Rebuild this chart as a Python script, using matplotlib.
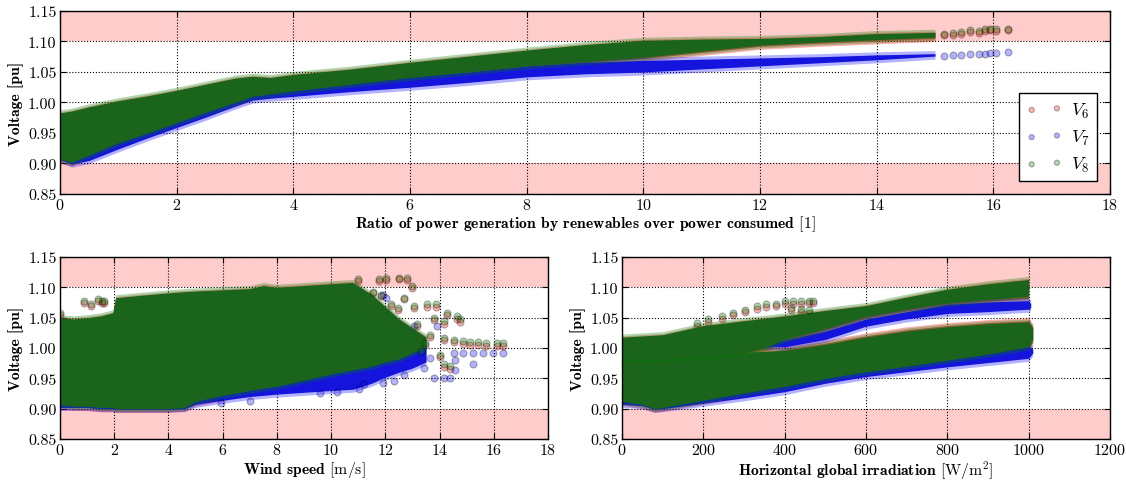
import numpy as np
import matplotlib
matplotlib.use("Agg")
import matplotlib.pyplot as plt

plt.rcParams["mathtext.fontset"] = "cm"
plt.rcParams["font.family"] = "cmr10"
plt.rcParams["axes.unicode_minus"] = False
plt.rcParams["axes.formatter.use_mathtext"] = True

# ---- top panel: voltage vs ratio of renewable generation / consumption ----
top_x = [0, 0.2, 0.5, 1, 1.5, 2, 2.5, 3, 3.3, 3.6, 4, 5, 6, 7, 8, 9, 10, 11, 12, 13, 14, 15]
top_v8_hi = [0.985, 0.988, 0.995, 1.005, 1.013, 1.022, 1.032, 1.042, 1.045, 1.043, 1.048, 1.057,
             1.068, 1.078, 1.088, 1.097, 1.104, 1.106, 1.107, 1.110, 1.115, 1.117]
top_v8_lo = [0.905, 0.900, 0.912, 0.932, 0.948, 0.965, 0.982, 0.998, 1.008, 1.012, 1.017, 1.028,
             1.039, 1.048, 1.058, 1.065, 1.072, 1.082, 1.092, 1.097, 1.101, 1.105]
top_v7_hi = [0.950, 0.940, 0.950, 0.960, 0.970, 0.980, 0.990, 1.010, 1.020, 1.025, 1.030, 1.038,
             1.045, 1.052, 1.062, 1.068, 1.071, 1.073, 1.075, 1.077, 1.080, 1.082]
top_v7_lo = [0.905, 0.897, 0.903, 0.922, 0.940, 0.957, 0.974, 0.992, 1.002, 1.005, 1.008, 1.016,
             1.023, 1.031, 1.040, 1.045, 1.048, 1.053, 1.058, 1.063, 1.068, 1.074]
top_v6_hi = [0.982, 0.985, 0.992, 1.002, 1.010, 1.019, 1.029, 1.039, 1.042, 1.040, 1.045, 1.054,
             1.065, 1.075, 1.085, 1.094, 1.101, 1.103, 1.104, 1.107, 1.112, 1.114]
top_v6_lo = [0.903, 0.899, 0.910, 0.930, 0.946, 0.963, 0.980, 0.996, 1.006, 1.010, 1.015, 1.026,
             1.037, 1.046, 1.056, 1.063, 1.070, 1.080, 1.090, 1.095, 1.099, 1.103]

top_tail_x = [15.15, 15.3, 15.45, 15.6, 15.75, 15.85, 15.95, 16.05, 16.25]
top_tail_v8 = [1.113, 1.114, 1.116, 1.119, 1.117, 1.120, 1.121, 1.120, 1.121]
top_tail_v6 = [1.110, 1.111, 1.113, 1.116, 1.114, 1.117, 1.118, 1.117, 1.118]
top_tail_v7 = [1.077, 1.078, 1.078, 1.079, 1.079, 1.080, 1.081, 1.081, 1.082]

# ---- bottom left: voltage vs wind speed ----
wind_x = [0, 0.5, 1, 1.5, 1.95, 2.05, 3, 4, 4.6, 5, 6, 7, 7.5, 8, 9, 10, 10.8, 11.5, 12, 12.5, 13, 13.5]
wind_v8_hi = [1.052, 1.050, 1.052, 1.055, 1.060, 1.085, 1.089, 1.093, 1.095, 1.096, 1.098, 1.100,
              1.105, 1.102, 1.105, 1.108, 1.110, 1.090, 1.070, 1.050, 1.035, 1.020]
wind_v8_lo = [0.905, 0.902, 0.902, 0.900, 0.900, 0.898, 0.898, 0.898, 0.900, 0.910, 0.920, 0.928,
              0.932, 0.935, 0.945, 0.955, 0.962, 0.968, 0.975, 0.980, 0.990, 1.000]
wind_v7_hi = [1.040, 1.040, 1.040, 1.045, 1.050, 1.075, 1.080, 1.083, 1.085, 1.086, 1.088, 1.090,
              1.095, 1.092, 1.095, 1.098, 1.090, 1.075, 1.060, 1.040, 1.025, 1.010]
wind_v7_lo = [0.900, 0.900, 0.900, 0.898, 0.898, 0.897, 0.897, 0.897, 0.898, 0.905, 0.912, 0.918,
              0.920, 0.922, 0.925, 0.928, 0.930, 0.940, 0.950, 0.958, 0.965, 0.975]
wind_v6_hi = [1.049, 1.047, 1.049, 1.052, 1.057, 1.082, 1.086, 1.090, 1.092, 1.093, 1.095, 1.097,
              1.102, 1.099, 1.102, 1.105, 1.107, 1.087, 1.067, 1.047, 1.032, 1.017]
wind_v6_lo = [0.903, 0.900, 0.900, 0.898, 0.898, 0.897, 0.897, 0.897, 0.899, 0.907, 0.916, 0.924,
              0.928, 0.931, 0.941, 0.951, 0.958, 0.964, 0.971, 0.976, 0.986, 0.996]

wind_pts_x = [0.0, 0.9, 1.15, 1.39, 1.54, 1.64, 10.98, 11.53, 11.78, 11.84, 12.02, 12.2, 12.45,
              12.5, 12.69, 12.81, 13.0, 13.05, 13.18, 13.3, 13.48, 13.54, 13.66, 13.79, 13.85,
              14.03, 14.15, 14.15, 14.15, 14.27, 14.4, 14.52, 14.64, 14.76, 14.88, 15.13,
              15.43, 15.73, 16.1, 16.35]
wind_pts_v8 = [1.058, 1.077, 1.073, 1.081, 1.077, 1.077, 1.113, 1.093, 1.113, 1.088, 1.115, 1.072,
               1.066, 1.116, 1.083, 1.115, 1.102, 1.069, 1.039, 0.995, 1.009, 1.072, 1.022, 1.050,
               1.072, 0.989, 1.044, 1.017, 0.973, 1.058, 0.970, 1.014, 1.052, 1.047, 1.011, 1.010,
               1.010, 1.009, 1.009, 1.009]
wind_pts_v6 = [1.055, 1.074, 1.070, 1.078, 1.074, 1.074, 1.110, 1.090, 1.110, 1.085, 1.112, 1.069,
               1.063, 1.113, 1.080, 1.112, 1.099, 1.066, 1.036, 0.992, 1.005, 1.068, 1.018, 1.046,
               1.068, 0.985, 1.040, 1.013, 0.969, 1.054, 0.966, 1.010, 1.048, 1.043, 1.006, 1.005,
               1.005, 1.004, 1.004, 1.004]
wind7_pts_x = [5.93, 7.02, 9.6, 10.2, 11.04, 11.23, 11.9, 11.9, 12.02, 12.32, 12.45, 12.69, 13.05,
               13.42, 13.66, 13.79, 13.9, 14.15, 14.4, 14.52, 14.58, 14.58, 14.88, 15.25, 15.25,
               15.61, 15.98, 16.35]
wind7_pts_v7 = [0.909, 0.912, 0.926, 0.928, 0.932, 0.940, 0.943, 1.088, 1.083, 0.945, 1.039,
                0.956, 1.036, 0.967, 0.984, 0.951, 1.036, 0.951, 0.951, 0.991, 0.981, 0.964,
                0.991, 0.991, 0.973, 0.991, 0.991, 0.991]

# ---- bottom right: voltage vs horizontal global irradiation ----
irr_lo_x = [0, 50, 80, 100, 200, 300, 400, 500, 600, 700, 800, 900, 1000, 1010]
irr_v8_low_lo = [0.910, 0.905, 0.898, 0.900, 0.912, 0.924, 0.935, 0.948, 0.959, 0.968, 0.978,
                 0.988, 1.000, 1.012]
irr_v8_low_hi = [0.990, 0.990, 0.990, 0.990, 0.990, 0.995, 0.998, 1.008, 1.020, 1.030, 1.037,
                 1.042, 1.045, 1.035]
irr_v7_low_lo = [0.905, 0.903, 0.897, 0.898, 0.907, 0.916, 0.926, 0.940, 0.951, 0.959, 0.967,
                 0.974, 0.981, 0.990]
irr_v7_low_hi = [0.930, 0.925, 0.920, 0.920, 0.930, 0.940, 0.950, 0.960, 0.970, 0.980, 0.990,
                 0.998, 1.006, 1.000]
irr_v6_low_lo = [0.908, 0.903, 0.897, 0.899, 0.910, 0.921, 0.932, 0.945, 0.956, 0.965, 0.975,
                 0.985, 0.997, 1.008]
irr_v6_low_hi = [0.987, 0.987, 0.987, 0.987, 0.987, 0.992, 1.000, 1.010, 1.022, 1.032, 1.039,
                 1.044, 1.047, 1.037]

irr_up_x = [0, 50, 100, 200, 300, 350, 400, 500, 600, 700, 800, 900, 1000]
irr_v8_up_lo = [0.980, 0.980, 0.980, 0.985, 0.990, 0.998, 1.012, 1.030, 1.050, 1.062, 1.072,
                1.078, 1.083]
irr_v8_up_hi = [1.020, 1.022, 1.024, 1.039, 1.047, 1.051, 1.055, 1.064, 1.072, 1.086, 1.099,
                1.108, 1.115]
irr_v6_up_lo = [0.977, 0.977, 0.977, 0.982, 0.987, 0.995, 1.009, 1.027, 1.047, 1.059, 1.069,
                1.075, 1.080]
irr_v6_up_hi = [1.017, 1.019, 1.021, 1.036, 1.044, 1.048, 1.052, 1.061, 1.069, 1.083, 1.096,
                1.105, 1.112]
irr_v7_up_x = [350, 400, 500, 600, 700, 800, 900, 1000, 1005]
irr_v7_up_lo = [1.000, 1.000, 1.012, 1.034, 1.046, 1.055, 1.058, 1.062, 1.065]
irr_v7_up_hi = [1.008, 1.015, 1.030, 1.050, 1.062, 1.074, 1.078, 1.080, 1.075]

irr_pts_x = [184, 212, 245, 274, 302, 331, 355, 379, 400, 421, 441, 461, 469, 415, 440, 460]
irr_pts_v8 = [1.041, 1.047, 1.052, 1.058, 1.063, 1.069, 1.072, 1.073, 1.077, 1.077, 1.077,
              1.078, 1.078, 1.066, 1.064, 1.062]
irr_pts_v6 = [1.037, 1.043, 1.048, 1.054, 1.059, 1.065, 1.068, 1.069, 1.073, 1.073, 1.073,
              1.074, 1.074, 1.062, 1.060, 1.058]

red, blue, green = "r", "b", "g"
dense = {"r": "#c85050", "b": "#1414dc", "g": "#1b641b"}


def cloud(ax, x, lo, hi, c):
    x = np.asarray(x)
    lo = np.asarray(lo)
    hi = np.asarray(hi)
    ax.fill_between(x, lo - 0.003, hi + 0.003, color=c, alpha=0.3, lw=0, zorder=2)
    ax.fill_between(x, lo + 0.002, np.maximum(hi - 0.002, lo + 0.002),
                    color=dense[c], lw=0, zorder=2)


def dots(ax, x, y, c, label=None):
    return ax.scatter(x, y, s=25, c=c, alpha=0.3, edgecolors="k", linewidths=0.8,
                      zorder=2, label=label)


def setup(ax, xmax, xstep):
    ax.axhspan(1.10, 1.15, color="r", alpha=0.2, lw=0, zorder=0.5)
    ax.axhspan(0.85, 0.90, color="r", alpha=0.2, lw=0, zorder=0.5)
    ax.set_xlim(0, xmax)
    ax.set_ylim(0.85, 1.15)
    ax.set_xticks(np.arange(0, xmax + xstep / 2, xstep))
    ax.set_yticks(np.arange(0.85, 1.151, 0.05))
    ax.set_yticklabels(["%.2f" % v for v in np.arange(0.85, 1.151, 0.05)])
    ax.set_axisbelow("line")
    ax.grid(True, color="k", linestyle=":", linewidth=0.8)
    ax.tick_params(direction="in", top=True, right=True, labelsize=11.5, length=4, pad=2.5)
    for s in ax.spines.values():
        s.set_linewidth(1.0)
    ax.set_ylabel("Voltage [pu]", fontfamily="cmb10", fontsize=11.3, labelpad=3)


fig = plt.figure(figsize=(11.26, 4.81), dpi=100)
ax1 = fig.add_axes([0.0533, 0.5946, 0.9325, 0.3805])
ax2 = fig.add_axes([0.0533, 0.0852, 0.4334, 0.3784])
ax3 = fig.add_axes([0.5524, 0.0852, 0.4334, 0.3784])

# top
setup(ax1, 18, 2)
cloud(ax1, top_x, top_v6_lo, top_v6_hi, red)
h6 = dots(ax1, top_tail_x, top_tail_v6, red, "$V_6$")
cloud(ax1, top_x, top_v7_lo, top_v7_hi, blue)
h7 = dots(ax1, top_tail_x, top_tail_v7, blue, "$V_7$")
cloud(ax1, top_x, top_v8_lo, top_v8_hi, green)
h8 = dots(ax1, top_tail_x, top_tail_v8, green, "$V_8$")
ax1.set_xlabel(r"Ratio of power generation by renewables over power consumed $\mathrm{[1]}$",
               fontfamily="cmb10", fontsize=11.3, labelpad=1)
leg = ax1.legend(handles=[h6, h7, h8], loc="lower right", scatterpoints=2, fontsize=13,
                 fancybox=False, framealpha=1, edgecolor="k", markerscale=0.75,
                 borderaxespad=0.7, handletextpad=0.5, labelspacing=0.45)
leg.get_frame().set_linewidth(1.0)

# wind
setup(ax2, 18, 2)
cloud(ax2, wind_x, wind_v6_lo, wind_v6_hi, red)
dots(ax2, wind_pts_x, wind_pts_v6, red)
cloud(ax2, wind_x, wind_v7_lo, wind_v7_hi, blue)
dots(ax2, wind7_pts_x, wind7_pts_v7, blue)
cloud(ax2, wind_x, wind_v8_lo, wind_v8_hi, green)
dots(ax2, wind_pts_x, wind_pts_v8, green)
ax2.set_xlabel(r"Wind speed $\mathrm{[m/s]}$", fontfamily="cmb10", fontsize=11.3, labelpad=1)

# irradiation
setup(ax3, 1200, 200)
cloud(ax3, irr_lo_x, irr_v6_low_lo, irr_v6_low_hi, red)
cloud(ax3, irr_up_x, irr_v6_up_lo, irr_v6_up_hi, red)
dots(ax3, irr_pts_x, irr_pts_v6, red)
cloud(ax3, irr_lo_x, irr_v7_low_lo, irr_v7_low_hi, blue)
cloud(ax3, irr_v7_up_x, irr_v7_up_lo, irr_v7_up_hi, blue)
cloud(ax3, irr_lo_x, irr_v8_low_lo, irr_v8_low_hi, green)
cloud(ax3, irr_up_x, irr_v8_up_lo, irr_v8_up_hi, green)
dots(ax3, irr_pts_x, irr_pts_v8, green)
ax3.set_xlabel(r"Horizontal global irradiation $\mathrm{[W/m^2]}$", fontfamily="cmb10",
               fontsize=11.3, labelpad=1)

fig.savefig("out.png", dpi=100)
